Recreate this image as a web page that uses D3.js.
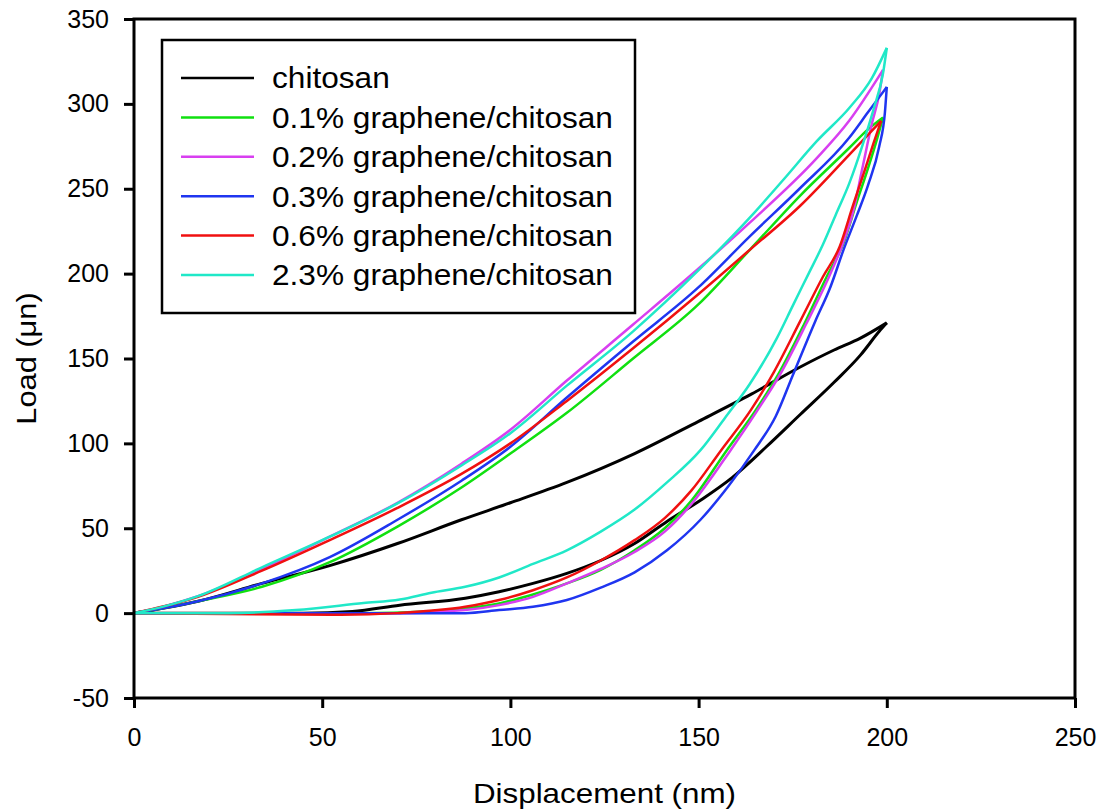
<!DOCTYPE html>
<html>
<head>
<meta charset="utf-8">
<script src="https://cdnjs.cloudflare.com/ajax/libs/d3/7.8.5/d3.min.js"></script>
<style>
  body { margin: 0; background: #fff; }
  svg { display: block; font-family: "Liberation Sans", Arial, sans-serif; }
  .tick text { font-size: 25px; fill: #000; }
</style>
</head>
<body>
<div id="chart"></div>
<script>
// axis ticks
const xTicks = [0, 50, 100, 150, 200, 250];
const yTicks = [-50, 0, 50, 100, 150, 200, 250, 300, 350];

// series names (legend order)
const seriesNames = ["chitosan", "0.1% graphene/chitosan", "0.2% graphene/chitosan",
  "0.3% graphene/chitosan", "0.6% graphene/chitosan", "2.3% graphene/chitosan"];

// [displacement nm, load] - loading branch
const chitosanLoad = [[0,0],[8,3],[17,7],[34,17.5],[52,28],[70,41],[87,55],[100,65],[115,77],[133,94],[150,113],[164,129],[177,145],[186,155],[193,162],[200,171]];
const g01Load = [[0,0],[8,3],[17,7],[34,15.5],[52,30],[70,51],[87,74],[100,94],[115,118],[132.6,150],[150,182],[163.6,214],[177,246],[190,274],[195,285],[199,292]];
const g02Load = [[0,0],[8,4],[17,10],[34,26],[52,45],[70,65],[87,88],[100,108],[115,137],[132.6,170],[150,203],[163.6,230],[181.4,268],[190,290],[199,320]];
const g03Load = [[0,0],[8,3],[17,7],[34,17.5],[52,33],[70,55],[87,78],[100,98],[115,127],[132.6,160],[150,192],[163.6,222],[176.8,250],[190,280],[195,295],[200,310]];
const g06Load = [[0,0],[8,4],[17,9.6],[34,25],[52,43],[70,62],[87,82],[100,100],[115,125],[132.6,156],[150,188],[163.6,214],[177,240],[190,270],[198.5,290]];
const g23Load = [[0,0],[8,4],[17,10],[34,27],[52,45],[70,64.6],[87,87],[100,106],[115,134],[132.6,166],[150,202],[163.6,233],[172.4,255],[181.4,278],[190.2,298],[196,315],[200,333]];

// unloading branch (listed by increasing displacement)
const chitosanUnload = [[0,0],[45,0],[58,1],[70.6,4.7],[88,8.8],[97,12.6],[106,17.5],[115,23.4],[124,31],[133,41],[141.6,54],[150.5,66.5],[159,80],[168,98],[177,117],[186,136],[193,152],[198,166],[200,171]];
const g01Unload = [[0,0],[60,0],[78,1],[88,2.7],[97,5.7],[106,11],[115,17.5],[124,25.5],[133,37],[141,50],[148,66],[157.5,96],[165,119],[171,140],[178,170],[184,198],[188.5,218],[192,242],[195,262],[197.5,280],[199,292]];
const g02Unload = [[0,0],[70,0],[88,1.8],[97,4.7],[106,9.6],[115,17.5],[124,26],[133,36],[141,48],[148,64],[158.5,96],[165.5,119],[172,142],[178.5,170],[184,195],[188,216],[191,236],[193.5,262],[196,288],[198,306],[199,320]];
const g03Unload = [[0,0],[88,0],[97,1.8],[106,3.7],[115,7.7],[124,15],[133,24],[141.6,37],[150.5,55],[158,75],[164.8,96],[170.5,116],[175,140],[181,172],[185,192],[188.5,214],[192,234],[195,252],[198,275],[199.5,295],[200,310]];
const g06Unload = [[0,0],[55,-1],[70,0],[88,3.7],[97,7.7],[106,13.5],[115,21],[124,31],[133,43],[141,56],[148,72],[156,96],[164,120],[170,142],[177,172],[183,198],[187.5,216],[191,240],[194,260],[196.5,277],[198.5,290]];
const g23Unload = [[0,0],[25,0],[43,1.8],[61,5.9],[70.6,8],[79,12],[88,15.5],[97,21],[106,29],[115,37],[124,48],[133,61],[141.6,77],[150.5,96],[157,115],[163.6,135],[170.8,162],[175,181],[179,199],[183,217],[186.5,235],[190,253],[193.6,276],[196.5,297],[199,318],[200,333]];

const seriesColors = ["#000000", "#10e010", "#d83ff0", "#1f35f0", "#f01010", "#20e8c8"];
const loads = [chitosanLoad, g01Load, g02Load, g03Load, g06Load, g23Load];
const unloads = [chitosanUnload, g01Unload, g02Unload, g03Unload, g06Unload, g23Unload];

// chart box
let w = 1104, h = 810;
let m = {top: 19, right: 29, bottom: 112, left: 134};
let iw = w - m.left - m.right;
let ih = h - m.top - m.bottom;

let svg = d3.select("#chart")
  .append("svg")
  .attr("width", w)
  .attr("height", h);

const g = svg.append("g").attr("transform", "translate(" + m.left + "," + m.top + ")");

let x = d3.scaleLinear().domain([0, 250]).range([0, iw]);
let y = d3.scaleLinear().domain([-50, 350]).range([ih, 0]);

// axes (plain hyphen for negatives, like the original)
const xAxis = d3.axisBottom(x).tickValues(xTicks).tickSize(10).tickPadding(20).tickFormat(d => String(d));
const yAxis = d3.axisLeft(y).tickValues(yTicks).tickSize(10).tickPadding(15).tickFormat(d => String(d));

g.append("g")
  .attr("transform", "translate(0," + ih + ")")
  .call(xAxis)
  .call(a => a.select(".domain").remove())
  .call(a => a.selectAll(".tick line").attr("stroke", "#000").attr("stroke-width", 3));

g.append("g")
  .call(yAxis)
  .call(a => a.select(".domain").remove())
  .call(a => a.selectAll(".tick line").attr("stroke", "#000").attr("stroke-width", 3));

// clip lines to the frame
g.append("clipPath").attr("id", "clip")
  .append("rect").attr("width", iw).attr("height", ih);

const line = d3.line()
  .x(d => x(d[0]))
  .y(d => y(d[1]))
  .curve(d3.curveMonotoneX);

const plot = g.append("g").attr("clip-path", "url(#clip)");

// draw curves, black first
loads.forEach((arr, i) => {
  [arr, unloads[i]].forEach(branch => {
    plot.append("path")
      .datum(branch)
      .attr("fill", "none")
      .attr("stroke", seriesColors[i])
      .attr("stroke-width", i === 0 ? 3 : 2.5)
      .attr("stroke-linejoin", "round")
      .attr("d", line);
  });
});

// frame
g.append("rect")
  .attr("width", iw)
  .attr("height", ih)
  .attr("fill", "none")
  .attr("stroke", "#000")
  .attr("stroke-width", 3);

// the original lettering is a bit wider than Arial, stretch it
function widen(t, k) {
  let len = t.node().getComputedTextLength();
  t.attr("textLength", len * k).attr("lengthAdjust", "spacingAndGlyphs");
}

// legend
const lg = svg.append("g").attr("transform", "translate(162,40)");
lg.append("rect")
  .attr("width", 473)
  .attr("height", 273)
  .attr("fill", "#fff")
  .attr("stroke", "#000")
  .attr("stroke-width", 2.5);

seriesNames.forEach((name, i) => {
  let ly = 38 + i * 39.4;
  lg.append("line")
    .attr("x1", 19).attr("x2", 92)
    .attr("y1", ly).attr("y2", ly)
    .attr("stroke", seriesColors[i])
    .attr("stroke-width", 2.5);
  let t = lg.append("text")
    .attr("x", 110)
    .attr("y", ly)
    .attr("dy", "0.36em")
    .attr("font-size", 29)
    .attr("fill", "#000")
    .text(name);
  widen(t, 1.09);
});

// axis titles
let xt = svg.append("text")
  .attr("x", m.left + iw / 2)
  .attr("y", 803)
  .attr("text-anchor", "middle")
  .attr("font-size", 28)
  .text("Displacement (nm)");
widen(xt, 1.12);

let yt = svg.append("text")
  .attr("transform", "translate(36," + (m.top + ih / 2) + ") rotate(-90)")
  .attr("text-anchor", "middle")
  .attr("font-size", 28)
  .text("Load (μn)");
widen(yt, 1.1);
</script>
</body>
</html>
